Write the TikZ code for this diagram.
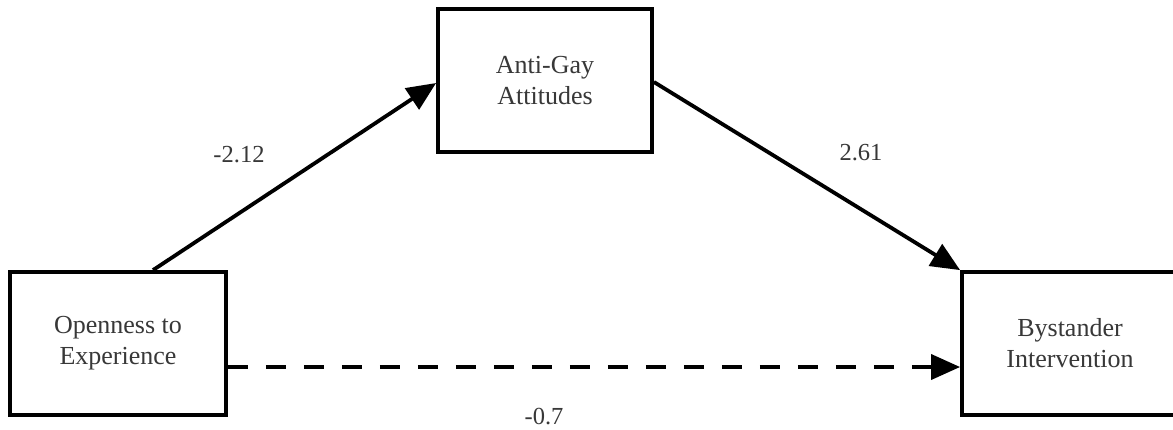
\documentclass[tikz,border=0pt]{standalone}
\usepackage{fontspec}
\setmainfont{Liberation Serif}
\usetikzlibrary{arrows.meta}
\begin{document}
\begin{tikzpicture}[x=1pt,y=-1pt,
  varbox/.style={draw=black,line width=3.8pt,rectangle,minimum width=216pt,minimum height=143pt,
    align=center,inner sep=0pt,text=black!78,font=\fontsize{26}{31}\selectfont},
  lbl/.style={text=black!78,font=\fontsize{24.5}{28}\selectfont,inner sep=0pt},
  conn/.style={line width=3.8pt,-{Triangle[length=29pt,width=25pt]}},
  dashconn/.style={conn,dash pattern=on 20pt off 18pt}]
\useasboundingbox (0,0) rectangle (1173,429);
\fill[white] (0,0) rectangle (1173,429);
\node[varbox] (L) at (118,343.5) {Openness to\\Experience};
\node[varbox,minimum width=214pt] (T) at (545,80.5) {Anti-Gay\\Attitudes};
\node[varbox] (R) at (1070,343.5) {Bystander\\Intervention};
\coordinate (s1) at ([xshift=35pt]L.north);
\coordinate (t1) at ([yshift=-2.5pt]T.west);
\coordinate (s2) at ([yshift=-1.5pt]T.east);
\coordinate (d1) at ([yshift=-23.5pt]L.east);
\coordinate (d2) at ([yshift=-23.5pt]R.west);
\draw[conn] (s1) -- (t1);
\draw[conn] (s2) -- (R.north west);
\draw[dashconn] (d1) -- (d2);
\node[lbl] (a) at (239,155) {-2.12};
\node[lbl] (b) at (861,153) {2.61};
\node[lbl] (c) at (544,417) {-0.7};
\end{tikzpicture}
\end{document}
